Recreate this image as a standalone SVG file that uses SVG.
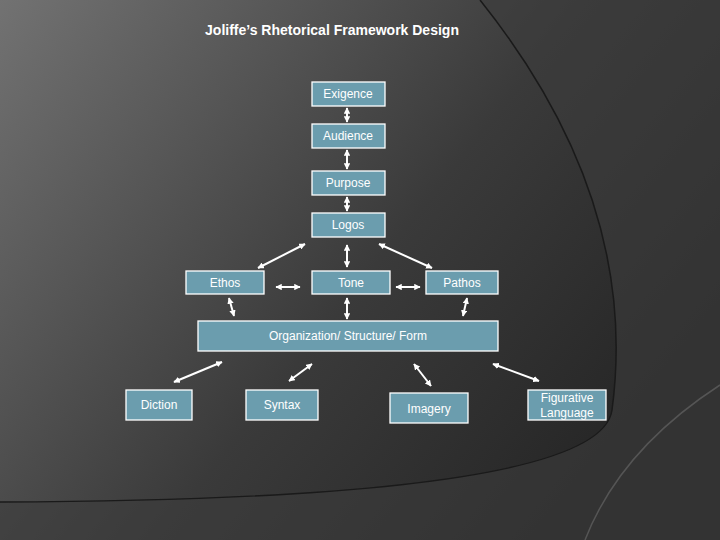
<svg xmlns="http://www.w3.org/2000/svg" width="720" height="540" viewBox="0 0 720 540">
<defs>
<linearGradient id="bg" x1="0" y1="0" x2="1" y2="0.6">
<stop offset="0" stop-color="#727272"/><stop offset="0.6" stop-color="#3a3a3a"/><stop offset="1" stop-color="#262626"/>
</linearGradient>
<marker id="ah" viewBox="0 0 10 10" refX="9" refY="5" markerWidth="3.2" markerHeight="3.2" orient="auto-start-reverse">
<path d="M0,0 L10,5 L0,10 Z" fill="#fff"/>
</marker>
<style>
.b{fill:#6b9dae;stroke:#fff;stroke-width:1.3}
.t{font-family:"Liberation Sans",Arial,sans-serif;font-size:12px;fill:#fff;text-anchor:middle}
.c line{stroke:#fff;stroke-width:2;marker-start:url(#ah);marker-end:url(#ah)}
</style>
</defs>
<rect width="720" height="540" fill="url(#bg)"/>
<path d="M480,0 Q640,200 612,410 Q600,500 0,502 L0,540 L720,540 L720,0 Z" fill="#3c3c3c" opacity="0.6"/>
<path d="M480,0 Q640,200 612,410 Q600,500 0,502" fill="none" stroke="#1a1a1a" stroke-width="1.5"/>
<path d="M720,385 Q620,450 585,540" fill="none" stroke="#555" stroke-width="1.5"/>
<text x="332" y="35" class="t" style="font-weight:bold;font-size:14px">Joliffe’s Rhetorical Framework Design</text>
<g class="c">
<line x1="347" y1="108" x2="347" y2="122"/>
<line x1="347" y1="150" x2="347" y2="169"/>
<line x1="347" y1="197" x2="347" y2="211"/>
<line x1="305" y1="244" x2="258" y2="268"/>
<line x1="347" y1="245" x2="347" y2="267"/>
<line x1="379" y1="244" x2="432" y2="268"/>
<line x1="276" y1="287" x2="300" y2="287"/>
<line x1="396" y1="287" x2="420" y2="287"/>
<line x1="229" y1="298" x2="234" y2="316"/>
<line x1="347" y1="298" x2="347" y2="319"/>
<line x1="467" y1="298" x2="463" y2="316"/>
<line x1="222" y1="362" x2="174" y2="382"/>
<line x1="312" y1="364" x2="289" y2="381"/>
<line x1="414" y1="364" x2="431" y2="386"/>
<line x1="493" y1="364" x2="539" y2="381"/>
</g>
<g id="exigence"><rect class="b" x="312" y="82" width="73" height="24"/><text class="t" x="348" y="98">Exigence</text></g>
<g id="audience"><rect class="b" x="312" y="124" width="73" height="24"/><text class="t" x="348" y="140">Audience</text></g>
<g id="purpose"><rect class="b" x="312" y="171" width="73" height="24"/><text class="t" x="348" y="187">Purpose</text></g>
<g id="logos"><rect class="b" x="312" y="213" width="73" height="24"/><text class="t" x="348" y="229">Logos</text></g>
<g id="ethos"><rect class="b" x="186" y="271" width="78" height="23"/><text class="t" x="225" y="287">Ethos</text></g>
<g id="tone"><rect class="b" x="312" y="271" width="78" height="23"/><text class="t" x="351" y="287">Tone</text></g>
<g id="pathos"><rect class="b" x="426" y="271" width="72" height="23"/><text class="t" x="462" y="287">Pathos</text></g>
<g id="org"><rect class="b" x="198" y="321" width="300" height="30"/><text class="t" x="348" y="340">Organization/ Structure/ Form</text></g>
<g id="diction"><rect class="b" x="126" y="390" width="66" height="30"/><text class="t" x="159" y="409">Diction</text></g>
<g id="syntax"><rect class="b" x="246" y="390" width="72" height="30"/><text class="t" x="282" y="409">Syntax</text></g>
<g id="imagery"><rect class="b" x="390" y="393" width="78" height="30"/><text class="t" x="429" y="413">Imagery</text></g>
<g id="figurative"><rect class="b" x="528" y="390" width="78" height="30"/><text class="t" x="567" y="402">Figurative</text><text class="t" x="567" y="417">Language</text></g>
</svg>
